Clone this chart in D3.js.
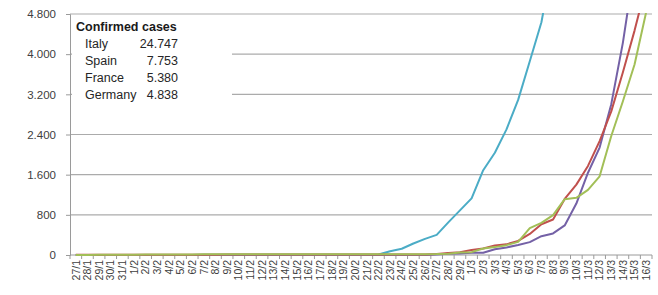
<!DOCTYPE html>
<html>
<head>
<meta charset="utf-8">
<script src="https://cdn.jsdelivr.net/npm/d3@7"></script>
<style>
  html, body { margin: 0; padding: 0; background: #fff; }
  svg { display: block; font-family: "Liberation Sans", Arial, sans-serif; }
</style>
</head>
<body>
<script>
// Day labels, 27/1 .. 16/3
const days = [
    "27/1", "28/1", "29/1", "30/1", "31/1",
    "1/2", "2/2", "3/2", "4/2", "5/2", "6/2", "7/2", "8/2", "9/2", "10/2",
    "11/2", "12/2", "13/2", "14/2", "15/2", "16/2", "17/2", "18/2", "19/2", "20/2",
    "21/2", "22/2", "23/2", "24/2", "25/2", "26/2", "27/2", "28/2", "29/2",
    "1/3", "2/3", "3/3", "4/3", "5/3", "6/3", "7/3", "8/3", "9/3", "10/3",
    "11/3", "12/3", "13/3", "14/3", "15/3", "16/3"
];

const italy = [
    0, 0, 0, 0, 2,
    2, 2, 2, 2, 2, 2, 3, 3, 3, 3,
    3, 3, 3, 3, 3, 3, 3, 3, 3, 3,
    3, 9, 76, 124, 229, 322, 400, 650, 888,
    1128, 1689, 2036, 2502, 3089, 3858, 4636, 5883, 7375, 9172,
    10149, 12462, 15113, 17660, 21157, 24747
];
const spain = [
    0, 0, 0, 0, 0,
    1, 1, 1, 1, 1, 1, 1, 1, 1, 2,
    2, 2, 2, 2, 2, 2, 2, 2, 2, 2,
    2, 2, 2, 2, 2, 2, 12, 25, 32,
    45, 45, 114, 151, 198, 257, 374, 430, 589, 1024,
    1639, 2140, 3004, 4231, 5753, 7753
];
const france = [
    3, 4, 4, 5, 5,
    6, 6, 6, 6, 6, 6, 6, 6, 11, 11,
    11, 11, 11, 11, 11, 12, 12, 12, 12, 12,
    12, 12, 12, 12, 12, 12, 18, 38, 57,
    100, 130, 191, 212, 282, 420, 613, 706, 1116, 1402,
    1774, 2269, 2860, 3640, 4469, 5380
];
const germany = [
    0, 1, 4, 4, 5,
    7, 8, 10, 12, 12, 12, 13, 13, 14, 14,
    16, 16, 16, 16, 16, 16, 16, 16, 16, 16,
    16, 16, 16, 16, 16, 16, 18, 26, 48,
    57, 129, 157, 196, 262, 534, 639, 795, 1112, 1139,
    1296, 1567, 2369, 3062, 3795, 4838
];

const countries = ["Italy", "Spain", "France", "Germany"];
const seriesValues = [italy, spain, france, germany];
const yTicks = [0, 800, 1600, 2400, 3200, 4000, 4800];
const legendTitle = "Confirmed cases";

const svgDimensions = { width: 658, height: 295 };
const margin = { left: 70, right: 6, top: 14, bottom: 40 };
const colors = ["#4bacc6", "#7461a6", "#c0504d", "#a2bf57"];

const locale = d3.formatLocale({ decimal: ",", thousands: ".", grouping: [3], currency: ["", "€"] });
const fmt = locale.format(",d");

const xScale = d3.scalePoint(days, [margin.left, svgDimensions.width - margin.right]).padding(0.5);
const step = xScale.step();
const yScale = d3.scaleLinear([0, 4800], [svgDimensions.height - margin.bottom, margin.top]);

const svg = d3.select("body").append("svg")
    .attr("width", svgDimensions.width)
    .attr("height", svgDimensions.height)
    .attr("viewBox", `0 0 ${svgDimensions.width} ${svgDimensions.height}`);

const plotRight = svgDimensions.width - margin.right;
const plotBottom = svgDimensions.height - margin.bottom;

// gridlines
svg.append("g")
    .selectAll("line")
    .data(yTicks.filter(d => d > 0))
    .join("line")
    .attr("x1", margin.left)
    .attr("x2", plotRight)
    .attr("y1", d => yScale(d))
    .attr("y2", d => yScale(d))
    .attr("stroke", "#ababab")
    .attr("stroke-width", 1.2);

// y axis
const yAxis = d3.axisLeft(yScale).tickValues(yTicks).tickFormat(fmt).tickSize(4).tickPadding(10);
svg.append("g")
    .attr("transform", `translate(${margin.left},0)`)
    .call(yAxis)
    .call(g => g.select(".domain").attr("stroke", "#9a9a9a"))
    .call(g => g.selectAll(".tick line").attr("stroke", "#9a9a9a"))
    .call(g => g.selectAll(".tick text")
        .attr("fill", "#404040")
        .style("font-size", "11.5px")
        .style("font-family", "'Liberation Sans', Arial, sans-serif"));

// x axis: ticks between days, labels rotated
const xAxisG = svg.append("g").attr("transform", `translate(0,${plotBottom})`);
xAxisG.append("line")
    .attr("x1", margin.left).attr("x2", plotRight)
    .attr("stroke", "#9a9a9a");
xAxisG.selectAll("line.tk")
    .data(d3.range(days.length + 1))
    .join("line")
    .attr("class", "tk")
    .attr("x1", i => margin.left + i * step)
    .attr("x2", i => margin.left + i * step)
    .attr("y2", 4)
    .attr("stroke", "#9a9a9a");
xAxisG.selectAll("text")
    .data(days)
    .join("text")
    .attr("transform", d => `translate(${xScale(d)},5) rotate(-90)`)
    .attr("text-anchor", "end")
    .attr("dy", "0.35em")
    .attr("fill", "#404040")
    .style("font-size", "10.5px")
    .text(d => d);

// lines
svg.append("clipPath").attr("id", "plot")
    .append("rect")
    .attr("x", margin.left).attr("y", margin.top - 1)
    .attr("width", plotRight - margin.left).attr("height", plotBottom - margin.top + 2);

const line = d3.line()
    .x((d, i) => xScale(days[i]))
    .y(d => yScale(d));

svg.append("g")
    .attr("clip-path", "url(#plot)")
    .selectAll("path")
    .data(seriesValues)
    .join("path")
    .attr("fill", "none")
    .attr("stroke", (d, i) => colors[i])
    .attr("stroke-width", 2)
    .attr("stroke-linejoin", "round")
    .attr("d", d => line(d));

// legend box
const legend = svg.append("g");
legend.append("rect")
    .attr("x", 72).attr("y", 16)
    .attr("width", 160).attr("height", 96)
    .attr("fill", "#fff");
legend.append("text")
    .attr("x", 76).attr("y", 31)
    .attr("fill", "#1a1a1a")
    .style("font-size", "12.5px")
    .style("font-weight", "bold")
    .text(legendTitle);
countries.forEach((name, i) => {
    const vals = seriesValues[i];
    legend.append("text")
        .attr("x", 85).attr("y", 48 + i * 17)
        .attr("fill", "#262626")
        .style("font-size", "12.5px")
        .text(name);
    legend.append("text")
        .attr("x", 178).attr("y", 48 + i * 17)
        .attr("text-anchor", "end")
        .attr("fill", "#262626")
        .style("font-size", "12.5px")
        .text(fmt(vals[vals.length - 1]));
});
</script>
</body>
</html>
